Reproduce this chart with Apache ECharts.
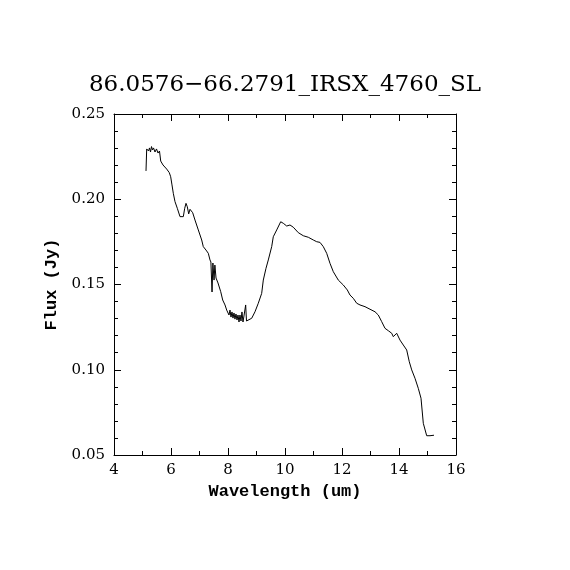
<!DOCTYPE html>
<html>
<head>
<meta charset="utf-8">
<script src="https://cdn.jsdelivr.net/npm/echarts@6/dist/echarts.min.js"></script>
<style>html,body{margin:0;padding:0;background:#fff}#c{width:570px;height:570px}</style>
</head>
<body>
<div id="c"></div>
<script>
const titleText = "86.0576\u221266.2791_IRSX_4760_SL";
const xName = "Wavelength (um)";
const yName = "Flux (Jy)";
const wavelength = [5.123,5.147,5.175,5.211,5.246,5.281,5.316,5.351,5.386,5.439,5.491,5.544,5.596,5.639,5.684,5.719,5.789,5.849,5.940,5.989,6.035,6.081,6.140,6.221,6.316,6.432,6.481,6.526,6.572,6.621,6.667,6.761,6.842,6.958,7.077,7.133,7.228,7.309,7.368,7.40,7.44,7.47,7.51,7.54,7.58,7.649,7.744,7.814,7.895,7.954,8.00,8.035,8.07,8.105,8.14,8.175,8.21,8.245,8.28,8.316,8.351,8.386,8.42,8.456,8.49,8.526,8.56,8.62,8.649,8.712,8.832,8.947,9.063,9.182,9.239,9.333,9.414,9.533,9.589,9.709,9.849,9.940,10.0,10.060,10.175,10.291,10.467,10.642,10.818,10.993,11.112,11.228,11.344,11.463,11.579,11.695,11.870,12.046,12.186,12.281,12.396,12.516,12.632,12.807,12.982,13.158,13.274,13.393,13.509,13.625,13.744,13.800,13.919,14.035,14.151,14.270,14.361,14.446,14.561,14.677,14.772,14.853,14.972,15.088,15.158,15.228];
const flux = [0.2166,0.2295,0.2306,0.2283,0.2301,0.2277,0.2309,0.2289,0.2301,0.2277,0.2295,0.2271,0.2283,0.2224,0.2230,0.2201,0.2195,0.2177,0.2156,0.2132,0.2084,0.2035,0.1986,0.1947,0.1898,0.1898,0.1947,0.1976,0.1956,0.1914,0.1941,0.1921,0.1878,0.1820,0.1761,0.1722,0.1702,0.1683,0.1644,0.1632,0.1456,0.1626,0.1526,0.1614,0.1538,0.1509,0.1458,0.1409,0.1380,0.1350,0.1356,0.1321,0.1350,0.1309,0.1339,0.1303,0.1333,0.1297,0.1327,0.1292,0.1321,0.1280,0.1321,0.1286,0.1339,0.1280,0.1315,0.1380,0.1286,0.1292,0.1302,0.1340,0.1390,0.1448,0.1526,0.1595,0.1644,0.1722,0.1780,0.1820,0.1868,0.1859,0.1849,0.1843,0.1849,0.1836,0.1804,0.1786,0.1777,0.1761,0.1751,0.1747,0.1722,0.1683,0.1624,0.1575,0.1526,0.1497,0.1468,0.1438,0.1419,0.1390,0.1380,0.1370,0.1355,0.1340,0.1321,0.1282,0.1243,0.1229,0.1214,0.1194,0.1214,0.1174,0.1145,0.1116,0.1047,0.0999,0.0950,0.0891,0.0833,0.0686,0.0613,0.0613,0.0623,0.0616];
const xTicks = [4,6,8,10,12,14,16];
const yTicks = [0.05,0.10,0.15,0.20,0.25];

const font = "DejaVu Serif";
const nameFont = {fontFamily:"Liberation Mono", fontSize:17, fontWeight:'bold', color:'#000'};
const points = wavelength.map((w,i)=>[w, flux[i]]);
const line = {color:'#000', width:1};
function xAxisDef(pos, show){
  return {type:'value', position:pos, min:xTicks[0], max:xTicks[xTicks.length-1], interval:2,
    name: show?xName:'', nameLocation:'middle', nameGap:28,
    nameTextStyle:nameFont,
    axisLine:{show:true, onZero:false, lineStyle:line},
    axisTick:{show:true, inside:true, length:7, lineStyle:line},
    minorTick:{show:true, splitNumber:2, length:4, lineStyle:line},
    splitLine:{show:false},
    axisLabel:{show:show, margin:8, fontFamily:font, fontSize:15, color:'#000'}};
}
function yAxisDef(pos, show){
  return {type:'value', position:pos, min:yTicks[0], max:yTicks[yTicks.length-1], interval:0.05,
    name: show?yName:'', nameLocation:'middle', nameGap:52, nameRotate:90,
    nameTextStyle:nameFont,
    axisLine:{show:true, onZero:false, lineStyle:line},
    axisTick:{show:true, inside:true, length:7, lineStyle:line},
    minorTick:{show:true, splitNumber:5, length:4, lineStyle:line},
    splitLine:{show:false},
    axisLabel:{show:show, margin:9, fontFamily:font, fontSize:15, color:'#000',
      formatter:v=>v.toFixed(2)}};
}
const chart = echarts.init(document.getElementById('c'), null, {renderer:'canvas'});
chart.setOption({
  animation:false,
  backgroundColor:'#fff',
  title:{text:titleText, left:'center', top:69,
    textStyle:{fontFamily:font, fontSize:23, fontWeight:'normal', color:'#000'}},
  grid:{left:114, right:114, top:114, bottom:115, containLabel:false},
  xAxis:[xAxisDef('bottom', true), xAxisDef('top', false)],
  yAxis:[yAxisDef('left', true), yAxisDef('right', false)],
  series:[{type:'line', data:points, showSymbol:false, symbol:'none',
    lineStyle:{color:'#000', width:1}, xAxisIndex:0, yAxisIndex:0}]
});
</script>
</body>
</html>
